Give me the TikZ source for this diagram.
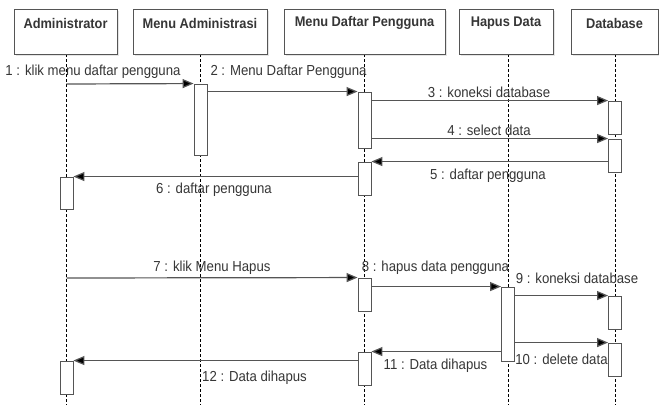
\documentclass[tikz,border=0pt]{standalone}
\usepackage{fontspec}
\setmainfont{Liberation Sans}
\newfontfamily\headfont{Liberation Sans Bold}[FakeStretch=0.915]
\newfontfamily\msgfont{Liberation Sans}[FakeStretch=0.91]
\usetikzlibrary{arrows.meta}
\definecolor{edge}{HTML}{555555}
\definecolor{ink}{HTML}{363636}
\begin{document}
\begin{tikzpicture}[x=1pt,y=-1pt,
  head/.style={draw=edge,line width=0.9pt,fill=white,minimum height=45pt,inner sep=0pt,anchor=north west},
  headtext/.style={font=\headfont\fontsize{14}{16}\selectfont,text=ink,inner sep=0pt},
  life/.style={dash pattern=on 3pt off 2pt,line width=0.7pt,black},
  act/.style={draw=edge,line width=0.9pt,fill=white,minimum width=13pt,inner sep=0pt},
  msg/.style={draw=edge,line width=1.2pt,-{Triangle[length=11pt,width=9pt,fill=black]}},
  lbl/.style={font=\msgfont\fontsize{14.5}{16}\selectfont,text=ink,inner sep=0pt}]
\useasboundingbox (0,0) rectangle (659,405);
\fill[white] (0,0) rectangle (659,405);

% header shadows
\foreach \xa/\xb in {14/117,133/267,284/445,459/553,571/658}
  \fill[black!10] (\xa+2,11) rectangle (\xb+2,56);

% lifelines
\draw[life] (66.5,54) -- (66.5,405);
\draw[life] (200.5,54) -- (200.5,405);
\draw[life] (364.5,54) -- (364.5,405);
\draw[life] (508,54) -- (508,405);
\draw[life] (615,54) -- (615,405);

% headers
\node[head,minimum width=103pt] (hadm) at (14,9) {};
\node[head,minimum width=134pt] (hma) at (133,9) {};
\node[head,minimum width=161pt] (hmdp) at (284,9) {};
\node[head,minimum width=94pt] (hhd) at (459,9) {};
\node[head,minimum width=87pt] (hdb) at (571,9) {};
\node[headtext] (tadm) at (65.5,23) {Administrator};
\node[headtext] (tma) at (200,23) {Menu Administrasi};
\node[headtext] (tmdp) at (364.5,23) {Menu Daftar Pengguna};
\node[headtext] (thd) at (506,23) {Hapus Data};
\node[headtext] (tdb) at (614.5,23) {Database};

% activation bars
\node[act,minimum height=71pt] (ma1) at (200.5,119.5) {};
\node[act,minimum height=56pt] (mdp1) at (364.5,120) {};
\node[act,minimum height=33pt] (db1) at (615,117.5) {};
\node[act,minimum height=33pt] (db2) at (615,155.5) {};
\node[act,minimum height=33pt] (mdp2) at (364.5,178.5) {};
\node[act,minimum height=32pt] (ad1) at (66.5,193) {};
\node[act,minimum height=33pt] (mdp3) at (364.5,294.5) {};
\node[act,minimum height=74pt] (hd1) at (508,324) {};
\node[act,minimum height=33pt] (db3) at (615,312.5) {};
\node[act,minimum height=33pt] (db4) at (615,359.5) {};
\node[act,minimum height=33pt] (mdp4) at (364.5,368.5) {};
\node[act,minimum height=33pt] (ad2) at (66.5,377.5) {};

% free ends on the Administrator lifeline
\coordinate (s1) at (66.5,84);
\coordinate (s7) at (66.5,278);

% messages
\draw[msg] (s1) -- (ma1.north west);
\draw[msg] (ma1.east |- mdp1.north west) -- (mdp1.north west);
\draw[msg] (mdp1.east |- db1.north west) -- (db1.north west);
\draw[msg] (mdp1.east |- db2.north west) -- (db2.north west);
\draw[msg] (db2.west |- mdp2.north east) -- (mdp2.north east);
\draw[msg] (mdp2.west |- ad1.north east) -- (ad1.north east);
\draw[msg] (s7) -- (mdp3.north west);
\draw[msg] (mdp3.east |- hd1.north west) -- (hd1.north west);
\draw[msg] (hd1.east |- db3.north west) -- (db3.north west);
\draw[msg] (hd1.east |- db4.north west) -- (db4.north west);
\draw[msg] (hd1.west |- mdp4.north east) -- (mdp4.north east);
\draw[msg] (mdp4.west |- ad2.north east) -- (ad2.north east);

% message labels
\node[lbl] (l1) at (93,72) {1 : klik menu daftar pengguna};
\node[lbl] (l2) at (288.5,72) {2 : Menu Daftar Pengguna};
\node[lbl] (l3) at (489,92) {3 : koneksi database};
\node[lbl] (l4) at (489,130) {4 : select data};
\node[lbl] (l5) at (488,176) {5 : daftar pengguna};
\node[lbl] (l6) at (214,190) {6 : daftar pengguna};
\node[lbl] (l7) at (212,268) {7 : klik Menu Hapus};
\node[lbl] (l8) at (435.5,268) {8 : hapus data pengguna};
\node[lbl] (l9) at (577,278) {9 : koneksi database};
\node[lbl] (l10) at (561.5,359) {10 : delete data};
\node[lbl] (l11) at (435.5,366) {11 : Data dihapus};
\node[lbl] (l12) at (254.5,378) {12 : Data dihapus};
\end{tikzpicture}
\end{document}
